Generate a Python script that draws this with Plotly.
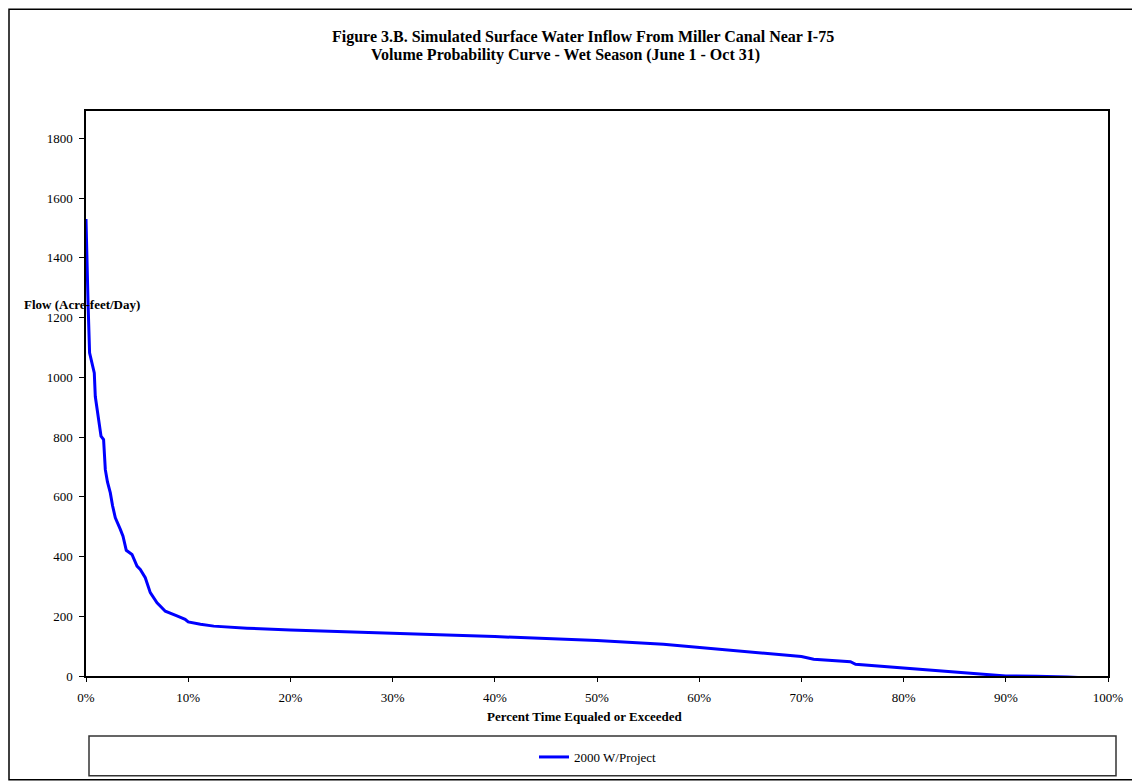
import plotly.graph_objects as go

# ── Data ─────────────────────────────────────────────────────────────────────
pct_time = [0, 0.1, 0.2, 0.35, 0.5, 0.68, 0.81, 0.91, 1.2, 1.47, 1.72, 1.89, 2.1,
            2.38, 2.6, 2.87, 3.36, 3.62, 3.94, 4.5, 4.99, 5.31, 5.8, 6.29, 6.95,
            7.76, 8.9, 9.7, 10, 11.2, 12.5, 15.75, 20, 25.5, 30, 35.3, 40, 45, 50,
            56.5, 60, 63.7, 67, 70, 71.2, 74.8, 75.3, 80, 84.6, 87, 90, 93, 96,
            99.2, 100]
flow = [1530, 1350, 1250, 1082, 1060, 1037, 1015, 936, 870, 803, 792, 691, 650,
        613, 570, 530, 491, 468, 421, 407, 368, 357, 329, 279, 245,
        217, 201, 190, 181, 173, 167, 160, 154, 147, 143, 137, 132, 126, 119,
        106, 95, 84, 74, 65, 56, 48, 39, 26, 13, 8, 0, -1, -3,
        -9, -17]

series_name = '2000 W/Project'
title_1 = 'Figure 3.B. Simulated Surface Water Inflow From Miller Canal Near I-75'
title_2 = 'Volume Probability Curve - Wet Season (June 1 - Oct 31)'
x_title = 'Percent Time Equaled or Exceeded'
y_title = 'Flow (Acre-feet/Day)'

# ── Layout geometry (page pixels; the page body adds an 8px offset) ──────────
PAGE_W, PAGE_H, OFF = 1140, 783, 8
L, R, T, B = 86, 1108, 111, 677
SERIF = 'Liberation Serif, Times New Roman, serif'


def px(x):
    return (x - L) / (R - L)


def py(y):
    return (B - y) / (B - T)


fig = go.Figure()
fig.add_trace(go.Scatter(
    x=pct_time, y=flow, mode='lines', name=series_name,
    line=dict(color='#0000FF', width=3), cliponaxis=False,
))

axis_common = dict(
    showline=True, linecolor='black', linewidth=1.5, mirror=True,
    showgrid=False, zeroline=False, ticks='outside', tickcolor='black',
    tickfont=dict(family=SERIF, size=13, color='black'),
)
fig.update_xaxes(range=[0, 100], dtick=10, ticksuffix='%', ticklen=4,
                 ticklabelstandoff=5, **axis_common)
fig.update_yaxes(range=[0, 1892], tick0=0, dtick=200, ticklen=5,
                 ticklabelstandoff=4, **axis_common)

bold = dict(family=SERIF, size=13, color='black')
title_font = dict(family=SERIF, size=16, color='black')
annotations = [
    dict(text='<b>%s</b>' % title_1, x=px(583), y=py(37), font=title_font),
    dict(text='<b>%s</b>' % title_2, x=px(565), y=py(55), font=title_font),
    dict(text='<b>%s</b>' % x_title, x=px(585), y=py(718), font=bold),
    dict(text='<b>%s</b>' % y_title, x=px(82), y=py(305), font=bold),
]
for a in annotations:
    a.update(xref='paper', yref='paper', showarrow=False,
             xanchor='center', yanchor='middle')

shapes = [
    # outer chart border
    dict(type='rect', xref='paper', yref='paper',
         x0=px(9), x1=px(1137), y0=py(781), y1=py(9),
         line=dict(color='black', width=1.5)),
    # legend box
    dict(type='rect', xref='paper', yref='paper',
         x0=px(89), x1=px(1116), y0=py(777), y1=py(737),
         line=dict(color='#333333', width=1.5)),
]

fig.update_layout(
    width=PAGE_W - OFF, height=PAGE_H - OFF,
    margin=dict(l=L - OFF, r=PAGE_W - R, t=T - OFF, b=PAGE_H - B),
    paper_bgcolor='white', plot_bgcolor='white',
    font=dict(family=SERIF, size=12, color='black'),
    annotations=annotations, shapes=shapes,
    showlegend=True,
    legend=dict(x=px(598), y=py(757), xanchor='center', yanchor='middle',
                bgcolor='rgba(0,0,0,0)', font=dict(family=SERIF, size=13, color='black')),
)

fig.write_html('out.html')
